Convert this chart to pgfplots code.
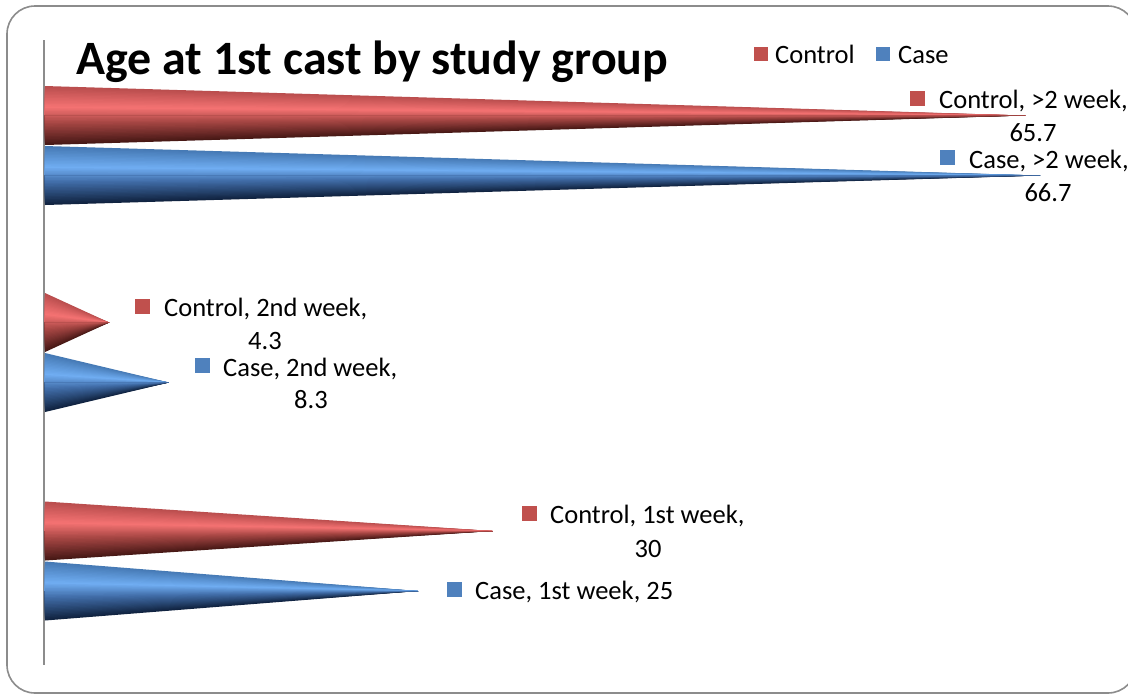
\documentclass[border=0pt]{standalone}
\usepackage{pgfplots}
\pgfplotsset{compat=1.18}
\usepackage{fontspec}
\setmainfont{Carlito}

% Colour across a cone, from upper edge to lower edge:
% upper edge, highlight, body, lower edge
\def\mixstop#1#2#3#4#5#6{%
  \pgfmathsetmacro#6{#1<0.36 ? #2+(#3-#2)*#1/0.36 :
    (#1<0.62 ? #3+(#4-#3)*(#1-0.36)/0.26 : #4+(#5-#4)*(#1-0.62)/0.38)}}

\newcommand{\conecolor}[2]{%
  \ifnum#2=0
    \mixstop{#1}{0.72}{0.96}{0.66}{0.27}{\cr}%
    \mixstop{#1}{0.30}{0.45}{0.28}{0.09}{\cg}%
    \mixstop{#1}{0.30}{0.45}{0.27}{0.08}{\cb}%
  \else
    \mixstop{#1}{0.27}{0.44}{0.25}{0.06}{\cr}%
    \mixstop{#1}{0.47}{0.68}{0.42}{0.13}{\cg}%
    \mixstop{#1}{0.70}{0.95}{0.65}{0.24}{\cb}%
  \fi}

% A filled wedge with one corner at the tip: corner rows, tip value, tip row, colour step
\newcommand{\wedgeplot}[6]{%
  \pgfmathsetmacro\tt{(#5+0.5)/40}%
  \conecolor{\tt}{#6}%
  \edef\wedge{\noexpand\addplot[forget plot, draw=none,
      fill={rgb,1:red,\cr;green,\cg;blue,\cb}]
    coordinates {(0,#1) (#3,#4) (0,#2)} -- cycle;}%
  \wedge}

% One cone: value, centre row, colour family (0 red, 1 blue).
% Wedges are painted from both edges in towards the axis of the cone,
% so neighbours overlap and leave no seams.
\newcommand{\cone}[3]{%
  \foreach \i in {0,...,19}{%
    \pgfmathsetmacro\ya{#2-29.5+59*\i/40}%
    \wedgeplot{\ya}{#2}{#1}{#2}{\i}{#3}%
  }%
  \foreach \i in {39,...,20}{%
    \pgfmathsetmacro\yb{#2-29.5+59*(\i+1)/40}%
    \wedgeplot{#2}{\yb}{#1}{#2}{\i}{#3}%
  }}

\definecolor{keyred}{HTML}{C0504D}
\definecolor{keyblue}{HTML}{4F81BD}
\definecolor{framegray}{HTML}{8C8C8C}

\begin{document}
\begin{tikzpicture}[x=1pt,y=-1pt]
\clip (0,0) rectangle (1128,694);
\path[fill=white] (0,0) rectangle (1128,694);
\draw[framegray, line width=1.6pt, rounded corners=28pt] (7,6) rectangle (1136,693);

\begin{axis}[
  at={(0,694)}, anchor=south west,
  scale only axis, width=1128pt, height=694pt,
  xmin=-3.016, xmax=72.587,
  ymin=0, ymax=694, y dir=reverse,
  hide axis, clip=false]
  % Vertical category axis line
  \addplot[forget plot, draw=framegray, line width=1.8pt] coordinates {(-0.05,40) (-0.05,665)};

  % Value, centre row, colour family
  \cone{65.7}{115.5}{0}
  \cone{66.7}{175.5}{1}
  \cone{4.3}{322.5}{0}
  \cone{8.3}{382.5}{1}
  \cone{30}{531}{0}
  \cone{25}{591}{1}
\end{axis}

% Title
\node[anchor=base west, inner sep=0pt, font=\fontsize{47.9}{52}\selectfont\bfseries] at (76,74) {Age at 1st cast by study group};

\tikzset{lab/.style={anchor=base west, inner sep=0pt, font=\fontsize{26.5}{30}\selectfont},
         val/.style={anchor=base, inner sep=0pt, font=\fontsize{26.5}{30}\selectfont}}

% Legend
\fill[keyred]  (754,47) rectangle (768,61);
\node[lab] at (775,63) {Control};
\fill[keyblue] (876,47) rectangle (890,61);
\node[lab] at (898,63) {Case};

% Data labels with their colour keys
\fill[keyred] (910,91) rectangle (925,106);
\node[lab] at (939,108) {Control, >2 week,};
\node[val] at (1033,141) {65.7};
\fill[keyblue] (940,150) rectangle (955,165);
\node[lab] at (969,168) {Case, >2 week,};
\node[val] at (1048,201) {66.7};
\fill[keyred] (135,299) rectangle (150,314);
\node[lab] at (164,316) {Control, 2nd week,};
\node[val] at (265,349) {4.3};
\fill[keyblue] (195,358) rectangle (210,373);
\node[lab] at (223,376) {Case, 2nd week,};
\node[val] at (311,408) {8.3};
\fill[keyred] (522,506) rectangle (537,521);
\node[lab] at (550,523) {Control, 1st week,};
\node[val] at (648,557) {30};
\fill[keyblue] (447,582) rectangle (462,597);
\node[lab] at (475,599) {Case, 1st week, 25};
\end{tikzpicture}
\end{document}
